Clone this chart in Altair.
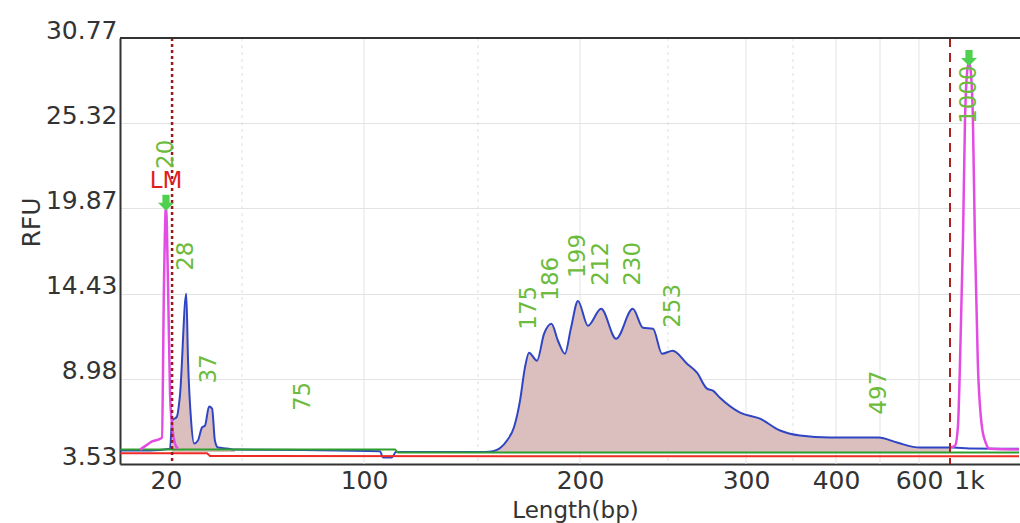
import altair as alt
import pandas as pd

# Sizing ladder: fragment size (bp) and migration time (s) of each ladder band
ladder_bp = [20, 50, 100, 150, 200, 250, 300, 350, 400, 500, 600, 1000]
ladder_sec = [24.6, 32.2, 44.4, 55.8, 66.0, 74.8, 82.6, 87.3, 91.6, 96.0, 99.9, 104.9]
window_sec = [20.0, 110.0]

tick_bp = [20, 100, 200, 300, 400, 600, 1000]
grid_major_bp = [100, 200, 300, 400, 500, 600]
grid_minor_bp = [50, 150, 250, 350]
rfu_ticks = [3.53, 8.98, 14.43, 19.87, 25.32, 30.77]

# Sample trace
sample_bp = [2.0, 13.7, 21.6, 22.4, 24.3, 25.5, 28.0, 28.7, 29.9, 31.1, 32.6, 34.2,
             35.4, 37.0, 38.2, 39.3, 40.5, 44.1, 47.2, 75.0, 107.0, 108.3, 112.3,
             114.0, 153.4, 157.4, 164.2, 167.6, 170.6, 173.0, 175.0, 178.9, 182.4,
             186.0, 189.2, 192.6, 195.6, 199.0, 204.5, 212.0, 220.5, 230.0, 235.8,
             241.5, 246.6, 253.0, 262.2, 268.6, 275.0, 278.8, 283.3, 296.2, 314.9,
             336.2, 358.1, 393.0, 497.0, 543.6, 608.0, 768.0, 848.0, 872.0, 1000.0,
             1400.0]
sample_rfu = [4.40, 4.40, 4.50, 6.31, 6.56, 7.90, 14.41, 10.14, 6.31, 4.84, 5.03, 5.86,
              5.99, 7.20, 7.07, 5.03, 4.58, 4.52, 4.45, 4.42, 4.35, 3.95, 3.95,
              4.30, 4.30, 4.35, 5.03, 5.86, 7.58, 9.69, 10.65, 10.14, 11.86,
              12.50, 11.41, 10.58, 12.24, 13.96, 12.37, 13.45, 11.54, 13.45, 12.24,
              12.18, 10.58, 10.77, 9.94, 9.37, 8.35, 8.22, 7.77, 6.82, 6.43,
              5.67, 5.35, 5.22, 5.22, 4.90, 4.58, 4.58, 4.58, 4.58, 4.52,
              4.50]

# Lower and upper marker traces
lm_bp = [9.8, 12.6, 14.5, 16.9, 18.4, 19.2, 20.0, 20.8, 21.6, 22.4, 23.6, 24.7]
lm_rfu = [4.45, 4.77, 4.97, 5.09, 5.22, 15.0, 20.03, 15.0, 8.0, 6.0, 4.8, 4.5]
um_bp = [848, 888, 912, 928, 952, 968, 984, 1000, 1015.7, 1031.4, 1047, 1070.6,
         1101.9, 1133.3, 1164.6, 1400]
um_rfu = [4.58, 4.7, 6.0, 10.0, 18.0, 25.5, 28.5, 29.28, 28.5, 25.5, 18.0, 10.0,
          6.0, 4.9, 4.5, 4.45]

# Fitted baseline and noise floor
baseline_bp = [2.0, 113.6, 114.9, 1400.0]
baseline_rfu = [4.45, 4.45, 4.26, 4.26]
noise_bp = [2.0, 36.2, 37.4, 1400.0]
noise_rfu = [4.22, 4.22, 4.04, 4.02]

marker_edges_bp = [22.4, 848.0]
peak_sizes = [28, 37, 175, 186, 199, 212, 230, 253, 497]
smear_label_bp = [75.0]

W, H = 900, 426
FONT = "DejaVu Sans"

# Piecewise bp -> pixel mapping built from the ladder migration times
t0, t1 = window_sec
lo_bp = ladder_bp[0] - (ladder_sec[0] - t0) * (ladder_bp[1] - ladder_bp[0]) / (ladder_sec[1] - ladder_sec[0])
hi_bp = ladder_bp[-1] + (t1 - ladder_sec[-1]) * (ladder_bp[-1] - ladder_bp[-2]) / (ladder_sec[-1] - ladder_sec[-2])
x_domain = [lo_bp] + ladder_bp + [hi_bp]
x_range = [(s - t0) / (t1 - t0) * W for s in [t0] + ladder_sec + [t1]]

X = alt.X(
    "bp:Q",
    scale=alt.Scale(domain=x_domain, range=x_range, zero=False, nice=False),
    axis=alt.Axis(
        values=tick_bp,
        labelExpr="datum.value >= 1000 ? (datum.value / 1000) + 'k' : datum.label",
        ticks=False, grid=False, labelPadding=4, labelFontSize=25, labelFont=FONT,
        labelColor="#333333", labelFlush=False, labelOverlap=False,
        domainColor="#333333", domainWidth=2,
        title="Length(bp)", titleFont=FONT, titleFontSize=23, titleFontWeight="normal",
        titleColor="#333333", titleX=455, titleY=53, titleAlign="center",
        titleBaseline="alphabetic",
    ),
)
Y = alt.Y(
    "rfu:Q",
    scale=alt.Scale(domain=[rfu_ticks[0], rfu_ticks[-1]], zero=False, nice=False),
    axis=alt.Axis(
        values=rfu_ticks, format=".2f", ticks=False, labelPadding=3,
        labelFontSize=25, labelFont=FONT, labelColor="#333333",
        labelBaseline="alphabetic", labelFlush=False,
        domainColor="#333333", domainWidth=2,
        grid=True, gridColor="#e3e3e3", gridWidth=1,
        title="RFU", titleFont=FONT, titleFontSize=25, titleFontWeight="normal",
        titleColor="#333333", titleX=-89, titleY=184, titleAngle=270,
        titleAlign="center", titleBaseline="middle",
    ),
)

sample = pd.DataFrame({"bp": sample_bp, "rfu": sample_rfu})
markers = pd.concat([
    pd.DataFrame({"bp": lm_bp, "rfu": lm_rfu, "marker": "LM"}),
    pd.DataFrame({"bp": um_bp, "rfu": um_rfu, "marker": "UM"}),
])
baseline = pd.DataFrame({"bp": baseline_bp, "rfu": baseline_rfu})
noise = pd.DataFrame({"bp": noise_bp, "rfu": noise_rfu})

peaks = pd.DataFrame({
    "bp": peak_sizes,
    "rfu": [sample_rfu[sample_bp.index(float(s))] for s in peak_sizes],
    "label": [str(s) for s in peak_sizes],
})
smear_labels = pd.DataFrame({
    "bp": smear_label_bp,
    "rfu": [sample_rfu[sample_bp.index(b)] for b in smear_label_bp],
    "label": [str(int(b)) for b in smear_label_bp],
})
lm_peak = pd.DataFrame({"bp": [20.0], "rfu": [lm_rfu[lm_bp.index(20.0)]], "label": ["20"]})
um_peak = pd.DataFrame({"bp": [1000.0], "rfu": [um_rfu[um_bp.index(1000)]], "label": ["1000"]})
marker_peaks = pd.concat([lm_peak, um_peak])

base = alt.Chart(sample)

grid_major = alt.Chart(pd.DataFrame({"bp": grid_major_bp})).mark_rule(
    color="#e3e3e3", strokeWidth=1).encode(x=X)
grid_minor = alt.Chart(pd.DataFrame({"bp": grid_minor_bp})).mark_rule(
    color="#dedede", strokeWidth=1, strokeDash=[3, 4]).encode(x=X)

fill = base.transform_filter(
    "(datum.bp >= 22.4 && datum.bp <= 47.2) || (datum.bp >= 153.4 && datum.bp <= 848)"
).transform_calculate(
    region="datum.bp < 100 ? 'low' : 'main'", floor="4.3"
).mark_area(color="#dbbfbf", opacity=1, interpolate="monotone").encode(
    x=X, y=Y, y2="floor:Q", detail="region:N")

sample_line = base.mark_line(color="#2f45c4", strokeWidth=2, interpolate="monotone").encode(x=X, y=Y)
baseline_line = alt.Chart(baseline).mark_line(color="#2e9e2e", strokeWidth=2).encode(x=X, y=Y)
noise_line = alt.Chart(noise).mark_line(color="#ee2a24", strokeWidth=2).encode(x=X, y=Y)
marker_line = alt.Chart(markers).mark_line(
    color="#e34ce3", strokeWidth=2.5, interpolate="monotone").encode(
    x=X, y=Y, detail="marker:N")

lm_edge = alt.Chart(pd.DataFrame({"bp": marker_edges_bp[:1]})).mark_rule(
    color="#9a1a1a", strokeWidth=2.5, strokeDash=[3, 3]).encode(x=X)
um_edge = alt.Chart(pd.DataFrame({"bp": marker_edges_bp[1:]})).mark_rule(
    color="#a82020", strokeWidth=2, strokeDash=[9, 6]).encode(x=X)

arrow_path = "M -0.45 -1.4 L 0.45 -1.4 L 0.45 -0.4 L 1 -0.4 L 0 0.6 L -1 -0.4 L -0.45 -0.4 Z"
arrows = alt.Chart(marker_peaks).mark_point(
    shape=arrow_path, filled=True, size=256, color="#4fd14f", opacity=1
).encode(x=X, y=Y)

label_style = dict(angle=270, align="left", baseline="middle", font=FONT,
                   fontSize=23, color="#6cbb3c")
peak_text = alt.Chart(peaks).mark_text(dx=23, **label_style).encode(x=X, y=Y, text="label:N")
smear_text = alt.Chart(smear_labels).mark_text(dx=39, **label_style).encode(x=X, y=Y, text="label:N")
lm_text = alt.Chart(lm_peak).mark_text(dx=37, **label_style).encode(x=X, y=Y, text="label:N")
um_text = alt.Chart(um_peak).mark_text(
    dx=-4, angle=270, align="right", baseline="middle", font=FONT, fontSize=23,
    color="#6cbb3c").encode(x=X, y=Y, text="label:N")
lm_tag = alt.Chart(lm_peak).mark_text(
    text="LM", dy=-18, align="center", baseline="alphabetic", font=FONT,
    fontSize=23, color="#e0201c").encode(x=X, y=Y)

top_border = alt.Chart(sample).mark_rule(color="#333333", strokeWidth=2).encode(
    x=alt.value(0), x2=alt.value(W), y=alt.value(0))

chart = alt.layer(
    grid_major, grid_minor, fill, sample_line, baseline_line, noise_line,
    marker_line, lm_edge, um_edge, arrows, peak_text, smear_text, lm_text,
    um_text, lm_tag, top_border,
).properties(
    width=W, height=H,
    padding={"left": 120, "top": 38, "right": 0, "bottom": 59},
    autosize=alt.AutoSizeParams(type="none"),
    background="white",
).configure_view(stroke=None)

chart.save("out.html", embed_options={"renderer": "svg", "actions": False})
